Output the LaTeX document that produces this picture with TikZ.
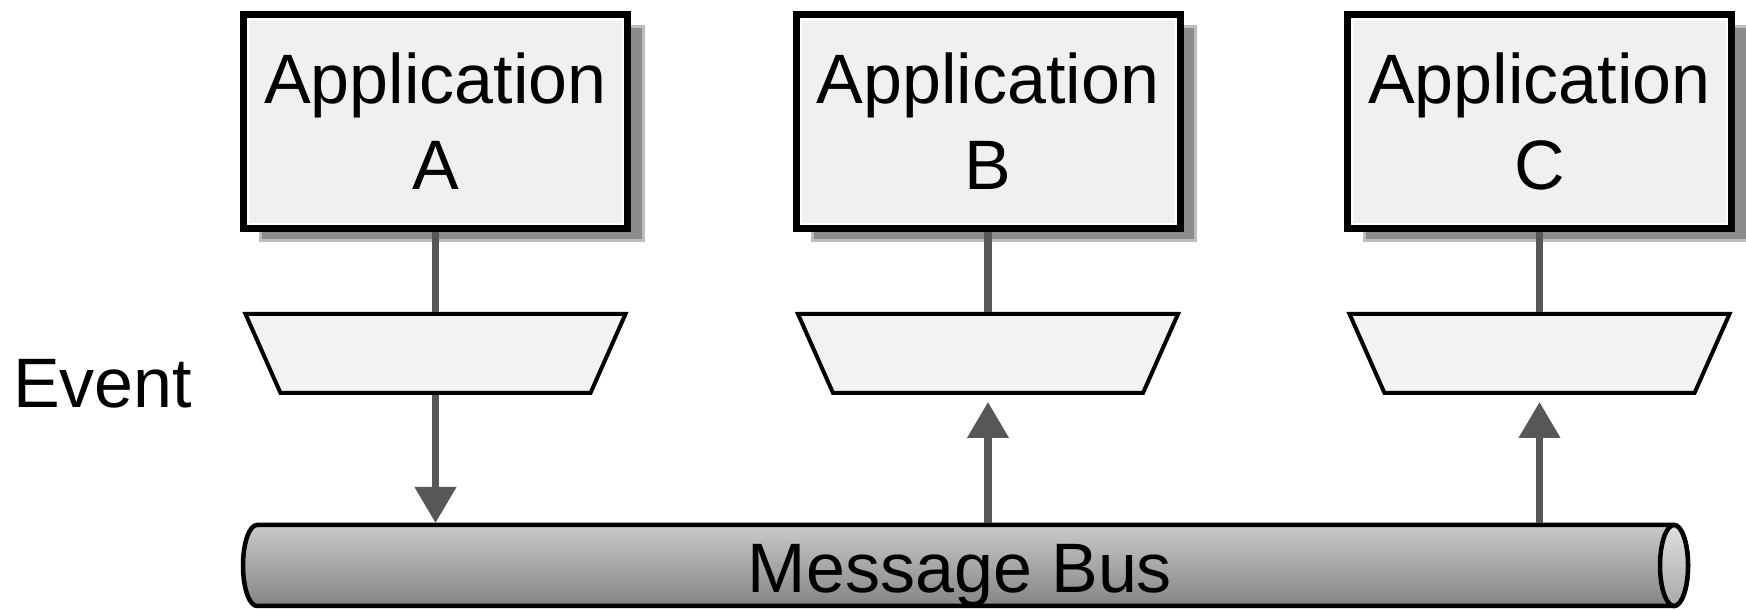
\documentclass[tikz,border=0pt]{standalone}
\usepackage{fontspec}
\setmainfont{Liberation Sans}
\usetikzlibrary{arrows.meta}
\definecolor{boxfill}{HTML}{F0F0F0}
\definecolor{trapfill}{HTML}{F2F2F2}
\definecolor{connc}{HTML}{575757}
\definecolor{shadowc}{HTML}{8C8C8C}
\definecolor{shadowedge}{HTML}{BDBDBD}
\definecolor{busTop}{HTML}{CACACA}
\definecolor{busBot}{HTML}{848484}
\begin{document}
\begin{tikzpicture}[x=1pt,y=1pt,
  appbox/.style={draw=black, fill=boxfill, line width=7pt, minimum width=384pt, minimum height=214pt, inner sep=0pt, align=center, font=\fontsize{70}{86}\selectfont},
  innerline/.style={draw=white, line width=2pt},
  shadowbox/.style={fill=shadowc, draw=shadowedge, line width=3pt},
  evtbox/.style={rectangle, minimum width=384pt, minimum height=83pt, inner sep=0pt, outer sep=0pt},
  evtline/.style={draw=black, fill=trapfill, line width=4pt, line join=miter},
  conn/.style={draw=connc, line width=7.5pt},
  flow/.style={conn, -{Triangle[width=40pt,length=36pt]}},
  lbl/.style={font=\fontsize{70}{86}\selectfont, inner sep=0pt},
  busline/.style={draw=black, line width=4.5pt},
]
\useasboundingbox (0,0) rectangle (1746,610);

% shadows
\foreach \cx in {435.5,988,1539.5}{
  \fill[shadowbox] (\cx-175.5,583) rectangle (\cx+207.5,369);
}

% application boxes
\node[appbox] (A) at (435.5,488.5) {Application\\A};
\node[appbox] (B) at (988,488.5) {Application\\B};
\node[appbox] (C) at (1539.5,488.5) {Application\\C};
\foreach \n in {A,B,C}{
  \draw[innerline] ([shift={(8,-8)}]\n.north west) rectangle ([shift={(-8,8)}]\n.south east);
}

% event trapezoids
\node[evtbox] (tA) at (435.5,256.5) {};
\node[evtbox] (tB) at (988,256.5) {};
\node[evtbox] (tC) at (1539.5,256.5) {};
\foreach \n in {tA,tB,tC}{
  \draw[evtline] ([shift={(2,-2)}]\n.north west) -- ([shift={(-2,-2)}]\n.north east)
    -- ([shift={(-37,2)}]\n.south east) -- ([shift={(37,2)}]\n.south west) -- cycle;
}

\node[lbl, anchor=base west] (ev) at (13,202) {Event};

% message bus
\shade[top color=busTop, bottom color=busBot] (1674,85) -- (257,85) arc[start angle=90, end angle=270, x radius=14, y radius=40.5] -- (1674,4) arc[start angle=-90, end angle=90, x radius=14, y radius=40.5] -- cycle;
\draw[busline] (1674,85) -- (257,85) arc[start angle=90, end angle=270, x radius=14, y radius=40.5] -- (1674,4) arc[start angle=-90, end angle=90, x radius=14, y radius=40.5] -- cycle;
\shade[top color=busTop!60!white, bottom color=busBot!70!white] (1674,44.5) ellipse[x radius=14, y radius=40.5];
\draw[busline] (1674,44.5) ellipse[x radius=14, y radius=40.5];
\coordinate (bustop) at (965,87);
\node[lbl, anchor=base] (bus) at (960,17) {Message Bus};

% connectors
\draw[conn] (A.south) -- (tA.north);
\draw[conn] (B.south) -- (tB.north);
\draw[conn] (C.south) -- (tC.north);
\draw[flow] (tA.south) -- (tA.south |- bustop);
\draw[flow, shorten >=7pt] (tB.south |- bustop) -- (tB.south);
\draw[flow, shorten >=7pt] (tC.south |- bustop) -- (tC.south);
\end{tikzpicture}
\end{document}
